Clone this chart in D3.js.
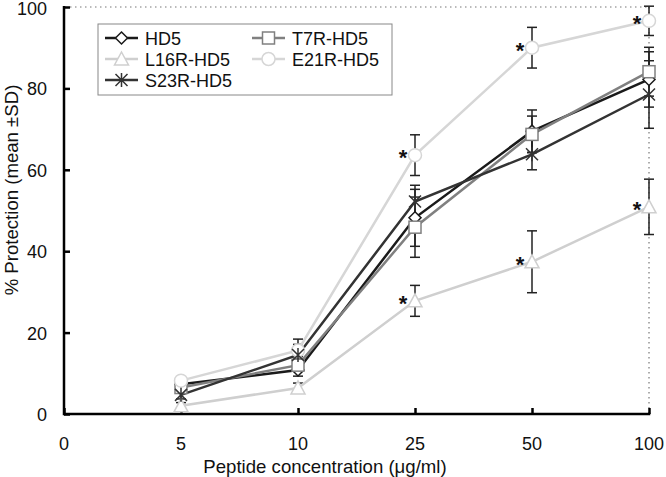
<!DOCTYPE html>
<html><head><meta charset="utf-8">
<script src="https://cdn.jsdelivr.net/npm/d3@7"></script>
<style>body{margin:0;background:#fff}svg{display:block}text{font-family:"Liberation Sans",Arial,sans-serif}</style>
</head><body><svg id="c" width="666" height="477"></svg>
<script>
const categories = ["0","5","10","25","50","100"];
const yTicks = [0,20,40,60,80,100];
const dataCats = ["5","10","25","50","100"];
const hd5 = [7.3, 10.8, 48.2, 69.5, 82.2];
const hd5SD = [1.0, 1.5, 7.0, 5.2, 6.8];
const t7r = [6.5, 12.0, 45.9, 68.7, 84.1];
const t7rSD = [1.0, 1.5, 7.4, 4.5, 6.0];
const l16r = [2.0, 6.4, 27.8, 37.4, 50.9];
const l16rSD = [0.8, 1.2, 3.8, 7.6, 6.8];
const e21r = [8.2, 15.6, 63.6, 90.0, 96.6];
const e21rSD = [0.8, 1.5, 5.0, 5.0, 3.6];
const s23r = [4.7, 14.5, 52.2, 63.8, 78.5];
const s23rSD = [1.0, 3.9, 4.0, 3.8, 8.3];
const e21rStars = [false,false,true,true,true];
const l16rStars = [false,false,true,true,true];

const series = [
  {name:"HD5", v:hd5, sd:hd5SD, color:"#1a1a1a", sym:"diamond", stars:null},
  {name:"T7R-HD5", v:t7r, sd:t7rSD, color:"#808080", sym:"square", stars:null},
  {name:"L16R-HD5", v:l16r, sd:l16rSD, color:"#cfcfcf", sym:"triangle", stars:l16rStars},
  {name:"E21R-HD5", v:e21r, sd:e21rSD, color:"#d6d6d6", sym:"circle", stars:e21rStars},
  {name:"S23R-HD5", v:s23r, sd:s23rSD, color:"#333333", sym:"star", stars:null}
];

const svg = d3.select("#c");
const x = d3.scalePoint().domain(categories).range([64,649]);
const y = d3.scaleLinear().domain([0,100]).range([414,7]);

// dotted frame
svg.append("line").attr("x1",70).attr("x2",649).attr("y1",y(100)).attr("y2",y(100))
  .attr("stroke","#777").attr("stroke-width",1.2).attr("stroke-dasharray","1.5,3.5");
svg.append("line").attr("x1",x("100")).attr("x2",x("100")).attr("y1",y(100)).attr("y2",y(0))
  .attr("stroke","#777").attr("stroke-width",1.2).attr("stroke-dasharray","1.5,3.5");

// axes
const yAxis = svg.append("g").attr("transform","translate(64,0)")
  .call(d3.axisRight(y).tickValues(yTicks).tickSize(6).tickFormat(""));
yAxis.select(".domain").remove();
yAxis.selectAll("line").attr("stroke","#000").attr("stroke-width",2.5);
svg.append("line").attr("x1",64).attr("x2",64).attr("y1",y(100)-1).attr("y2",y(0)+1.25).attr("stroke","#000").attr("stroke-width",2.5);
svg.selectAll(".ylab").data(yTicks).enter().append("text")
  .attr("x",47).attr("y",d=>Math.max(y(d)+7,15)).attr("text-anchor","end").attr("font-size",18).attr("fill","#111").text(d=>d);

const xAxis = svg.append("g").attr("transform","translate(0,414)")
  .call(d3.axisTop(x).tickSize(6).tickFormat(""));
xAxis.select(".domain").remove();
xAxis.selectAll("line").attr("stroke","#000").attr("stroke-width",2.5);
svg.append("line").attr("x1",64).attr("x2",650.25).attr("y1",414).attr("y2",414).attr("stroke","#000").attr("stroke-width",2.5);
svg.selectAll(".xlab").data(categories).enter().append("text")
  .attr("x",d=>x(d)).attr("y",450).attr("text-anchor","middle").attr("font-size",18).attr("fill","#111").text(d=>d);

svg.append("text").attr("x",325).attr("y",473).attr("text-anchor","middle").attr("font-size",18.6).attr("fill","#111")
  .text("Peptide concentration (μg/ml)");
svg.append("text").attr("transform","translate(18,190) rotate(-90)").attr("text-anchor","middle").attr("font-size",18.6).attr("fill","#111")
  .text("% Protection (mean ±SD)");

function marker(g, sym, cx, cy, color){
  if(sym==="diamond") g.append("path").attr("d",`M${cx},${cy-6}L${cx+6},${cy}L${cx},${cy+6}L${cx-6},${cy}Z`).attr("fill","#fff").attr("stroke",color).attr("stroke-width",1.5);
  else if(sym==="square") g.append("rect").attr("x",cx-6).attr("y",cy-6).attr("width",12).attr("height",12).attr("fill","#fff").attr("stroke",color).attr("stroke-width",1.5);
  else if(sym==="triangle") g.append("path").attr("d",`M${cx},${cy-7}L${cx+7},${cy+6}L${cx-7},${cy+6}Z`).attr("fill","#fff").attr("stroke",color).attr("stroke-width",1.5);
  else if(sym==="circle") g.append("circle").attr("cx",cx).attr("cy",cy).attr("r",6.5).attr("fill","#fff").attr("stroke",color).attr("stroke-width",1.5);
  else if(sym==="star") g.append("path").attr("d",`M${cx-6},${cy-6}L${cx+6},${cy+6}M${cx+6},${cy-6}L${cx-6},${cy+6}M${cx},${cy-7}L${cx},${cy+7}`).attr("fill","none").attr("stroke",color).attr("stroke-width",1.5);
}

// error bars
series.forEach(s=>{
  const g = svg.append("g").attr("stroke","#222").attr("stroke-width",1.5);
  dataCats.forEach((c,i)=>{
    const cx = x(c), lo = y(s.v[i]-s.sd[i]), hi = y(s.v[i]+s.sd[i]);
    g.append("line").attr("x1",cx).attr("x2",cx).attr("y1",hi).attr("y2",lo);
    g.append("line").attr("x1",cx-5).attr("x2",cx+5).attr("y1",hi).attr("y2",hi);
    g.append("line").attr("x1",cx-5).attr("x2",cx+5).attr("y1",lo).attr("y2",lo);
  });
});

// lines
const line = d3.line().x((d,i)=>x(dataCats[i])).y(d=>y(d));
series.forEach(s=>{
  svg.append("path").datum(s.v).attr("d",line).attr("fill","none").attr("stroke",s.color).attr("stroke-width",2.5);
});
series.forEach(s=>{
  const g = svg.append("g");
  dataCats.forEach((c,i)=>marker(g,s.sym,x(c),y(s.v[i]),s.color));
  if(s.stars) dataCats.forEach((c,i)=>{
    if(s.stars[i]) svg.append("text").attr("x",x(c)-12).attr("y",y(s.v[i])+10).attr("text-anchor","middle")
      .attr("font-size",22).attr("font-weight","bold").attr("fill","#111").text("*");
  });
});

// legend
const lg = svg.append("g");
lg.append("rect").attr("x",98).attr("y",24).attr("width",294).attr("height",71).attr("fill","#fff").attr("stroke","#888").attr("stroke-width",1);
const pos = [[105,38],[252,38],[105,59],[252,59],[105,80]];
series.forEach((s,k)=>{
  const [lx,ly] = pos[k];
  lg.append("line").attr("x1",lx).attr("x2",lx+33).attr("y1",ly).attr("y2",ly).attr("stroke",s.color).attr("stroke-width",2.5);
  marker(lg,s.sym,lx+16.5,ly,s.color);
  lg.append("text").attr("x",lx+40).attr("y",ly+6.5).attr("font-size",18).attr("fill","#111").text(s.name);
});
</script></body></html>
